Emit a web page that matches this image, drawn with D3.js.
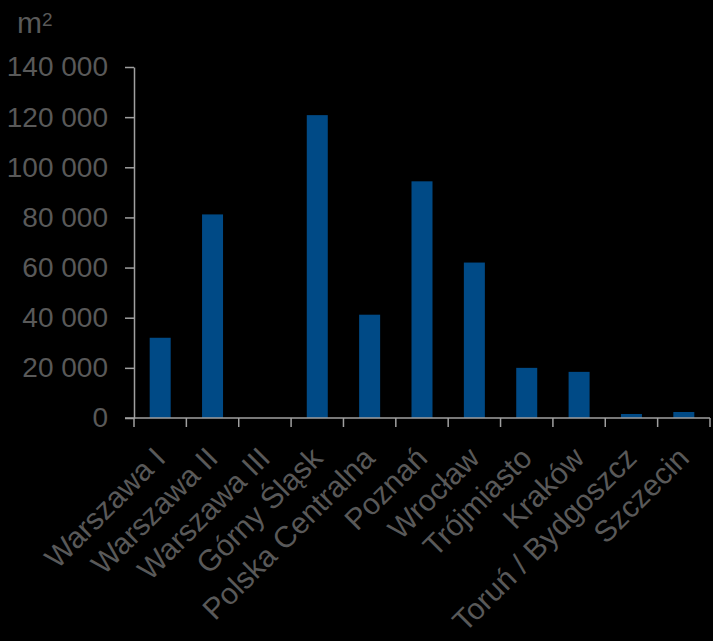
<!DOCTYPE html>
<html><head><meta charset="utf-8">
<script src="https://cdn.jsdelivr.net/npm/d3@7"></script>
<style>html,body{margin:0;padding:0;background:#000;}svg{display:block;}</style>
</head><body>
<script>
const categories = ["Warszawa I","Warszawa II","Warszawa III","Górny Śląsk","Polska Centralna","Poznań","Wrocław","Trójmiasto","Kraków","Toruń / Bydgoszcz","Szczecin"];
const values = [32000, 81200, 0, 120800, 41200, 94400, 62000, 20000, 18400, 1600, 2400];
const yTicks = [0, 20000, 40000, 60000, 80000, 100000, 120000, 140000];

(function () {
const W = 713, H = 641;
const mLeft = 134, mRight = 710, mTop = 67, mBottom = 418;
const textColor = "#595959", axisColor = "#a0a0a0", barColor = "#004a86";
const font = "Liberation Sans, Arial, sans-serif";

const svg = d3.select("body").append("svg").attr("width", W).attr("height", H).style("background", "#000");

const xTick = d3.scaleBand().domain(categories).range([mLeft, mRight]);
const y = d3.scaleLinear().domain([0, 140000]).range([mBottom, mTop]);

// bars
svg.selectAll("rect.bar").data(values).join("rect")
  .attr("class", "bar")
  .attr("x", (d, i) => xTick(categories[i]) + xTick.bandwidth() / 2 - 10.5)
  .attr("width", 21)
  .attr("y", d => y(d))
  .attr("height", d => y(0) - y(d))
  .attr("fill", barColor);

// y axis
const fmt = d => d3.format(",")(d).replace(/,/g, " ");
const yAxis = svg.append("g").attr("transform", `translate(${mLeft},0)`)
  .call(d3.axisLeft(y).tickValues(yTicks).tickFormat(fmt).tickSizeInner(9).tickSizeOuter(0).tickPadding(17));
yAxis.select(".domain").attr("stroke", axisColor).attr("stroke-width", 1.5);
yAxis.selectAll(".tick line").attr("stroke", axisColor).attr("stroke-width", 1.5);
yAxis.selectAll(".tick text").attr("fill", textColor).style("font-family", font).style("font-size", "28px");

// x axis line & ticks
const xAxisG = svg.append("g").attr("transform", `translate(0,${mBottom})`);
xAxisG.append("line").attr("x1", mLeft - 9).attr("x2", mRight).attr("y1", 0).attr("y2", 0)
  .attr("stroke", axisColor).attr("stroke-width", 1.5);
const tickPos = categories.map(c => xTick(c)).concat([mRight]);
xAxisG.selectAll("line.t").data(tickPos).join("line")
  .attr("class", "t")
  .attr("x1", d => d).attr("x2", d => d).attr("y1", 0).attr("y2", 9)
  .attr("stroke", axisColor).attr("stroke-width", 1.5);

// x labels
svg.selectAll("text.cat").data(categories).join("text")
  .attr("class", "cat")
  .attr("transform", c => `translate(${xTick(c) + xTick.bandwidth() / 2 + 7},${460}) rotate(-45)`)
  .attr("text-anchor", "end")
  .attr("fill", textColor)
  .style("font-family", font).style("font-size", "30px")
  .text(c => c);

// unit label
const unit = svg.append("text").attr("x", 17).attr("y", 33).attr("fill", textColor)
  .style("font-family", font).style("font-size", "30px");
unit.append("tspan").text("m");
unit.append("tspan").attr("dy", -7).style("font-size", "19px").text("2");
})();
</script>
</body></html>
